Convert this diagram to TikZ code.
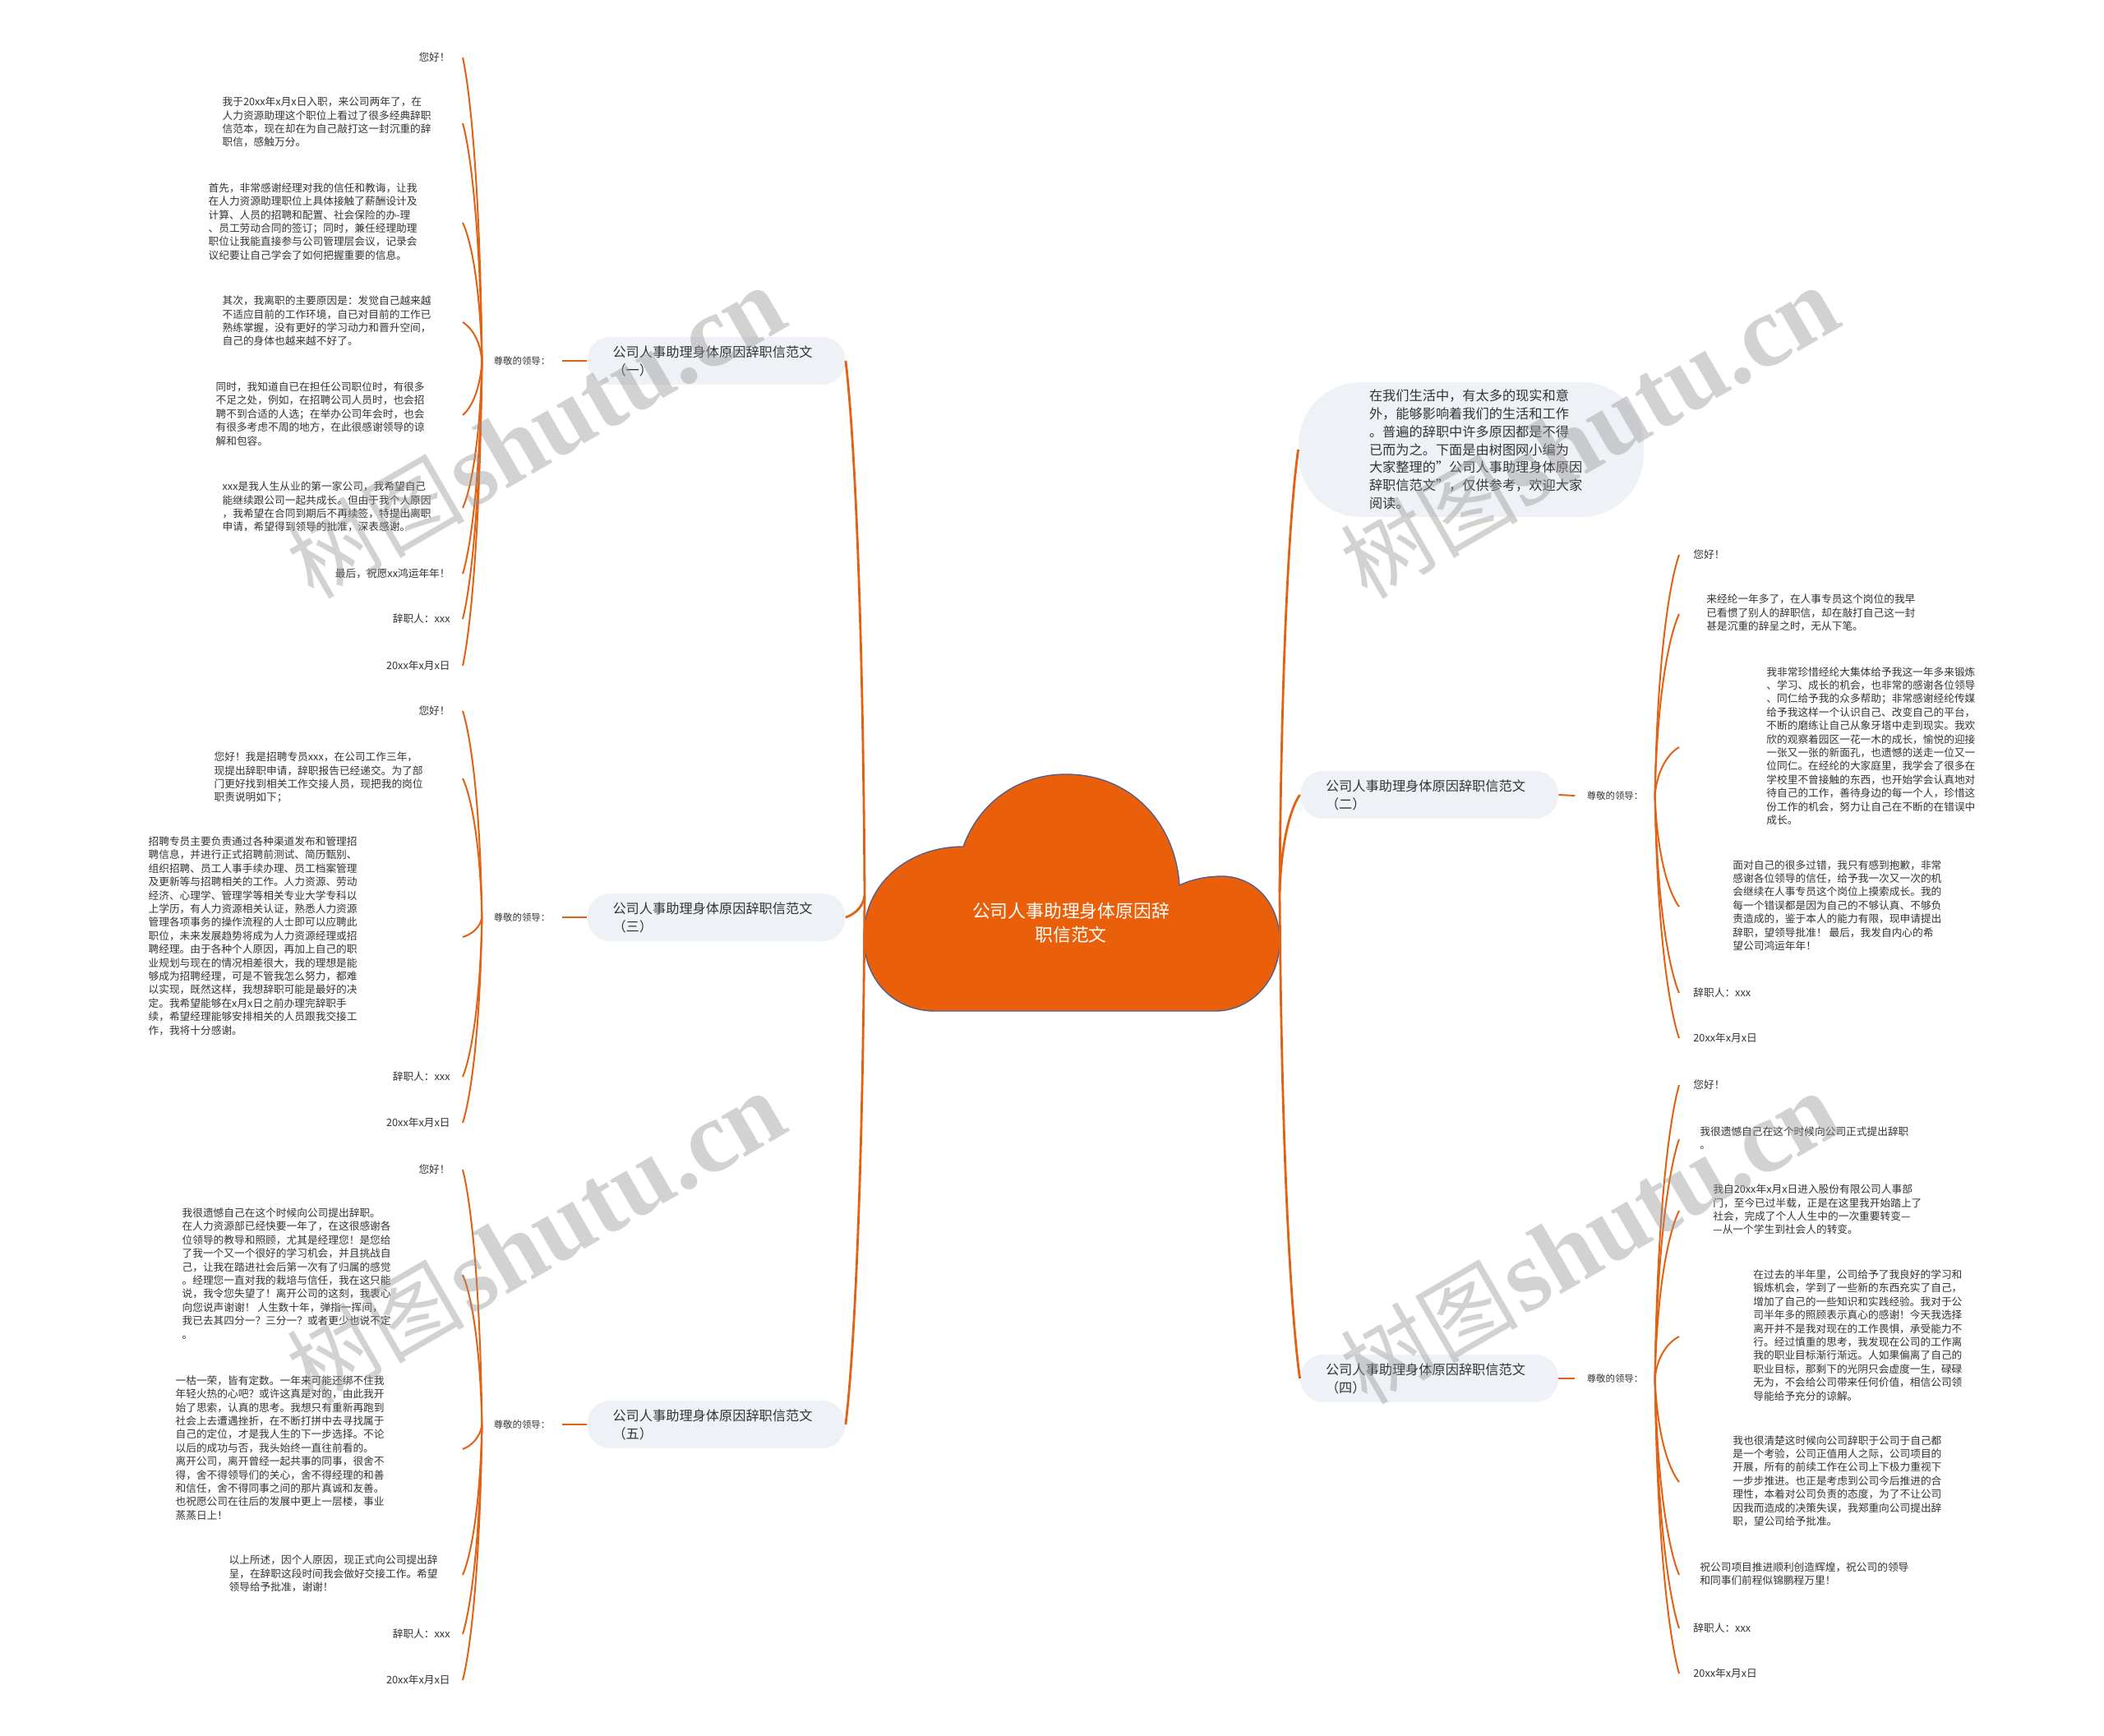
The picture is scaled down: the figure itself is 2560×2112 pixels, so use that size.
\documentclass[tikz,border=0pt]{standalone}
\usepackage{fontspec}
\setmainfont{Noto Sans CJK SC}
\newfontfamily\wmfont{Liberation Serif}
\usetikzlibrary{calc}
\definecolor{orng}{RGB}{234,96,10}
\definecolor{lineor}{RGB}{226,98,20}
\definecolor{boxfill}{RGB}{238,241,245}
\definecolor{txt}{RGB}{51,51,51}
\definecolor{cloudline}{RGB}{85,95,140}
\definecolor{wm}{RGB}{150,150,150}
\newcommand\lf{\fontsize{6.35}{8.2}\selectfont}
\newcommand\Lblk[2]{\begin{tabular}{@{}l@{\hspace{#1}}}#2\end{tabular}}
\newcommand\Rblk[2]{\begin{tabular}{@{\hspace{#1}}l@{}}#2\end{tabular}}
\newcommand\conn[3][]{\draw[#1] let \p1=(#2), \p2=(#3) in (\p1) .. controls ({\x1+0.1*(\x2-\x1)},{\y1+0.6*(\y2-\y1)}) and ({\x2+0.35*(\x1-\x2)},{\y2+0.1*(\y1-\y2)}) .. (\p2);}
\newcommand\wmtext{{\fontsize{54}{56}\selectfont 树图} {\wmfont\bfseries\fontsize{62}{64}\selectfont shutu.cn}}
\begin{document}
\begin{tikzpicture}[x=0.5pt,y=-0.5pt,
  leafline/.style={draw=lineor, line width=1pt},
  mainline/.style={draw=lineor, line width=1.4pt},
  leaf/.style={font=\lf, text=txt, inner sep=0pt},
  lone/.style={leaf, anchor=east, inner xsep=7.5pt},
  rone/.style={leaf, anchor=west, inner xsep=8.5pt},
  lblk/.style={leaf, anchor=east},
  rblk/.style={leaf, anchor=west},
  branch/.style={fill=boxfill, rounded corners=14pt, minimum width=156.5pt, minimum height=29pt, text width=126pt, align=left, inner xsep=15.5pt, inner ysep=0pt, font=\fontsize{8.1}{11}\selectfont, text=txt},
  lab/.style={font=\fontsize{5.7}{7}\selectfont, text=txt, inner xsep=7pt, inner ysep=1pt},
  intro/.style={fill=boxfill, rounded corners=38pt, text width=124pt, align=left, inner xsep=43pt, minimum height=82pt, font=\fontsize{8.1}{10.9}\selectfont, text=txt},
  rootlabel/.style={font=\fontsize{10.9}{14.5}\selectfont, text=white, align=center},
  wmk/.style={text=wm, opacity=0.42, inner sep=0pt, rotate=30}]
\useasboundingbox (0,0) rectangle (2560,2112);
\fill[white] (0,0) rectangle (2560,2112);

% root cloud
\path[fill=orng, draw=cloudline, line width=0.7pt] (1134,1230) .. controls (1085,1228) and (1051,1190) .. (1051,1140) .. controls (1051,1075) and (1105,1030) .. (1172,1030) .. controls (1192,975) and (1240,942) .. (1297,942) .. controls (1375,942) and (1430,1000) .. (1435,1077) .. controls (1452,1069) and (1470,1066) .. (1489,1066) .. controls (1530,1068) and (1557,1102) .. (1557,1145) .. controls (1557,1195) and (1520,1230) .. (1479,1230) -- cycle;
\node[rootlabel] (root) at (1303,1123) {公司人事助理身体原因辞\\职信范文};
\coordinate (cL) at (1052,1090);
\coordinate (cR) at (1557,1085);

% ---------- left branch 1 ----------
\node[branch] (b1) at (871.5,439) {公司人事助理身体原因辞职信范文\\（一）};
\node[lab] (la1) at (635,439) {尊敬的领导：};
\node[lone] (a1) at (563,70) {您好！};
\node[lblk] (a2) at (563,150) {\Lblk{19pt}{我于20xx年x月x日入职，来公司两年了，在\\人力资源助理这个职位上看过了很多经典辞职\\信范本，现在却在为自己敲打这一封沉重的辞\\职信，感触万分。}};
\node[lblk] (a3) at (563,271) {\Lblk{27.5pt}{首先，非常感谢经理对我的信任和教诲，让我\\在人力资源助理职位上具体接触了薪酬设计及\\计算、人员的招聘和配置、社会保险的办-理\\、员工劳动合同的签订；同时，兼任经理助理\\职位让我能直接参与公司管理层会议，记录会\\议纪要让自己学会了如何把握重要的信息。}};
\node[lblk] (a4) at (563,392) {\Lblk{19pt}{其次，我离职的主要原因是：发觉自己越来越\\不适应目前的工作环境，自已对目前的工作已\\熟练掌握，没有更好的学习动力和晋升空间，\\自己的身体也越来越不好了。}};
\node[lblk] (a5) at (563,505) {\Lblk{23pt}{同时，我知道自已在担任公司职位时，有很多\\不足之处，例如，在招聘公司人员时，也会招\\聘不到合适的人选；在举办公司年会时，也会\\有很多考虑不周的地方，在此很感谢领导的谅\\解和包容。}};
\node[lblk] (a6) at (563,618) {\Lblk{19pt}{xxx是我人生从业的第一家公司，我希望自己\\能继续跟公司一起共成长。但由于我个人原因\\，我希望在合同到期后不再续签，特提出离职\\申请，希望得到领导的批准，深表感谢。}};
\node[lone] (a7) at (563,698) {最后，祝愿xx鸿运年年！};
\node[lone] (a8) at (563,753) {辞职人：xxx};
\node[lone] (a9) at (563,810) {20xx年x月x日};

% ---------- left branch 3 ----------
\node[branch] (b3) at (871.5,1116) {公司人事助理身体原因辞职信范文\\（三）};
\node[lab] (la3) at (635,1116) {尊敬的领导：};
\node[lone] (c1) at (563,865) {您好！};
\node[lblk] (c2) at (563,947) {\Lblk{24pt}{您好！我是招聘专员xxx，在公司工作三年，\\现提出辞职申请，辞职报告已经递交。为了部\\门更好找到相关工作交接人员，现把我的岗位\\职责说明如下；}};
\node[lblk] (c3) at (563,1140) {\Lblk{64pt}{招聘专员主要负责通过各种渠道发布和管理招\\聘信息，并进行正式招聘前测试、简历甄别、\\组织招聘、员工人事手续办理、员工档案管理\\及更新等与招聘相关的工作。人力资源、劳动\\经济、心理学、管理学等相关专业大学专科以\\上学历，有人力资源相关认证，熟悉人力资源\\管理各项事务的操作流程的人士即可以应聘此\\职位，未来发展趋势将成为人力资源经理或招\\聘经理。由于各种个人原因，再加上自己的职\\业规划与现在的情况相差很大，我的理想是能\\够成为招聘经理，可是不管我怎么努力，都难\\以实现，既然这样，我想辞职可能是最好的决\\定。我希望能够在x月x日之前办理完辞职手\\续，希望经理能够安排相关的人员跟我交接工\\作，我将十分感谢。}};
\node[lone] (c4) at (563,1310) {辞职人：xxx};
\node[lone] (c5) at (563,1366) {20xx年x月x日};

% ---------- left branch 5 ----------
\node[branch] (b5) at (871.5,1733) {公司人事助理身体原因辞职信范文\\（五）};
\node[lab] (la5) at (635,1733) {尊敬的领导：};
\node[lone] (e1) at (563,1423) {您好！};
\node[lblk] (e2) at (563,1551) {\Lblk{43.5pt}{我很遗憾自己在这个时候向公司提出辞职。\\在人力资源部已经快要一年了，在这很感谢各\\位领导的教导和照顾，尤其是经理您！是您给\\了我一个又一个很好的学习机会，并且挑战自\\己，让我在踏进社会后第一次有了归属的感觉\\。经理您一直对我的栽培与信任，我在这只能\\说，我令您失望了！离开公司的这刻，我衷心\\向您说声谢谢！ 人生数十年，弹指一挥间，\\我已去其四分一？三分一？或者更少也说不定\\。}};
\node[lblk] (e3) at (563,1763) {\Lblk{47.5pt}{一枯一荣，皆有定数。一年来可能还绑不住我\\年轻火热的心吧？或许这真是对的，由此我开\\始了思索，认真的思考。我想只有重新再跑到\\社会上去遭遇挫折，在不断打拼中去寻找属于\\自己的定位，才是我人生的下一步选择。不论\\以后的成功与否，我头始终一直往前看的。\\离开公司，离开曾经一起共事的同事，很舍不\\得，舍不得领导们的关心，舍不得经理的和善\\和信任，舍不得同事之间的那片真诚和友善。\\也祝愿公司在往后的发展中更上一层楼，事业\\蒸蒸日上！}};
\node[lblk] (e4) at (563,1916) {\Lblk{15pt}{以上所述，因个人原因，现正式向公司提出辞\\呈，在辞职这段时间我会做好交接工作。希望\\领导给予批准，谢谢！}};
\node[lone] (e5) at (563,1988) {辞职人：xxx};
\node[lone] (e6) at (563,2044) {20xx年x月x日};

% ---------- right: intro ----------
\node[intro] (intro) at (1790,547) {在我们生活中，有太多的现实和意\\外，能够影响着我们的生活和工作\\。普遍的辞职中许多原因都是不得\\已而为之。下面是由树图网小编为\\大家整理的"公司人事助理身体原因\\辞职信范文"，仅供参考，欢迎大家\\阅读。};

% ---------- right branch 2 ----------
\node[branch] (b2) at (1739,967) {公司人事助理身体原因辞职信范文\\（二）};
\node[lab] (lb2) at (1965,968) {尊敬的领导：};
\node[rone] (r1) at (2043,675) {您好！};
\node[rblk] (r2) at (2043,747) {\Rblk{16.5pt}{来经纶一年多了，在人事专员这个岗位的我早\\已看惯了别人的辞职信，却在敲打自己这一封\\甚是沉重的辞呈之时，无从下笔。}};
\node[rblk] (r3) at (2043,909) {\Rblk{53pt}{我非常珍惜经纶大集体给予我这一年多来锻炼\\、学习、成长的机会，也非常的感谢各位领导\\、同仁给予我的众多帮助；非常感谢经纶传媒\\给予我这样一个认识自己、改变自己的平台，\\不断的磨练让自己从象牙塔中走到现实。我欢\\欣的观察着园区一花一木的成长，愉悦的迎接\\一张又一张的新面孔，也遗憾的送走一位又一\\位同仁。在经纶的大家庭里，我学会了很多在\\学校里不曾接触的东西，也开始学会认真地对\\待自己的工作，善待身边的每一个人，珍惜这\\份工作的机会，努力让自己在不断的在错误中\\成长。}};
\node[rblk] (r4) at (2043,1103) {\Rblk{32.5pt}{面对自己的很多过错，我只有感到抱歉，非常\\感谢各位领导的信任，给予我一次又一次的机\\会继续在人事专员这个岗位上摸索成长。我的\\每一个错误都是因为自己的不够认真、不够负\\责造成的，鉴于本人的能力有限，现申请提出\\辞职，望领导批准！ 最后，我发自内心的希\\望公司鸿运年年！}};
\node[rone] (r5) at (2043,1208) {辞职人：xxx};
\node[rone] (r6) at (2043,1263) {20xx年x月x日};

% ---------- right branch 4 ----------
\node[branch] (b4) at (1739,1677) {公司人事助理身体原因辞职信范文\\（四）};
\node[lab] (lb4) at (1965,1677) {尊敬的领导：};
\node[rone] (s1) at (2043,1320) {您好！};
\node[rblk] (s2) at (2043,1386) {\Rblk{12.5pt}{我很遗憾自己在这个时候向公司正式提出辞职\\。}};
\node[rblk] (s3) at (2043,1473) {\Rblk{20.5pt}{我自20xx年x月x日进入股份有限公司人事部\\门，至今已过半载，正是在这里我开始踏上了\\社会，完成了个人人生中的一次重要转变—\\—从一个学生到社会人的转变。}};
\node[rblk] (s4) at (2043,1626) {\Rblk{45pt}{在过去的半年里，公司给予了我良好的学习和\\锻炼机会，学到了一些新的东西充实了自己，\\增加了自己的一些知识和实践经验。我对于公\\司半年多的照顾表示真心的感谢！今天我选择\\离开并不是我对现在的工作畏惧，承受能力不\\行。经过慎重的思考，我发现在公司的工作离\\我的职业目标渐行渐远。人如果偏离了自己的\\职业目标，那剩下的光阴只会虚度一生，碌碌\\无为，不会给公司带来任何价值，相信公司领\\导能给予充分的谅解。}};
\node[rblk] (s5) at (2043,1803) {\Rblk{32.5pt}{我也很清楚这时候向公司辞职于公司于自己都\\是一个考验，公司正值用人之际，公司项目的\\开展，所有的前续工作在公司上下极力重视下\\一步步推进。也正是考虑到公司今后推进的合\\理性，本着对公司负责的态度，为了不让公司\\因我而造成的决策失误，我郑重向公司提出辞\\职，望公司给予批准。}};
\node[rblk] (s6) at (2043,1916) {\Rblk{12.5pt}{祝公司项目推进顺利创造辉煌，祝公司的领导\\和同事们前程似锦鹏程万里！}};
\node[rone] (s7) at (2043,1981) {辞职人：xxx};
\node[rone] (s8) at (2043,2036) {20xx年x月x日};

% ---------- main connectors ----------
\conn[mainline]{cL}{b1.east}
\conn[mainline]{cL}{b3.east}
\conn[mainline]{cL}{b5.east}
\conn[mainline]{cR}{intro.west}
\conn[mainline]{cR}{b2.west}
\conn[mainline]{cR}{b4.west}

% ---------- branch to label ----------
\draw[leafline] (b1.west) -- (la1.east);
\draw[leafline] (b3.west) -- (la3.east);
\draw[leafline] (b5.west) -- (la5.east);
\draw[leafline] (b2.east) -- (lb2.west);
\draw[leafline] (b4.east) -- (lb4.west);

% ---------- leaf connectors ----------
\foreach \v in {a1,a2,a3,a4,a5,a6,a7,a8,a9}{\conn[leafline]{la1.west}{\v.east}}
\foreach \v in {c1,c2,c3,c4,c5}{\conn[leafline]{la3.west}{\v.east}}
\foreach \v in {e1,e2,e3,e4,e5,e6}{\conn[leafline]{la5.west}{\v.east}}
\foreach \v in {r1,r2,r3,r4,r5,r6}{\conn[leafline]{lb2.east}{\v.west}}
\foreach \v in {s1,s2,s3,s4,s5,s6,s7,s8}{\conn[leafline]{lb4.east}{\v.west}}

% ---------- watermarks ----------
\node[wmk] (w1) at (652,527) {\wmtext};
\node[wmk] (w2) at (1934,527) {\wmtext};
\node[wmk] (w3) at (652,1507) {\wmtext};
\node[wmk] (w4) at (1934,1507) {\wmtext};
\end{tikzpicture}
\end{document}
